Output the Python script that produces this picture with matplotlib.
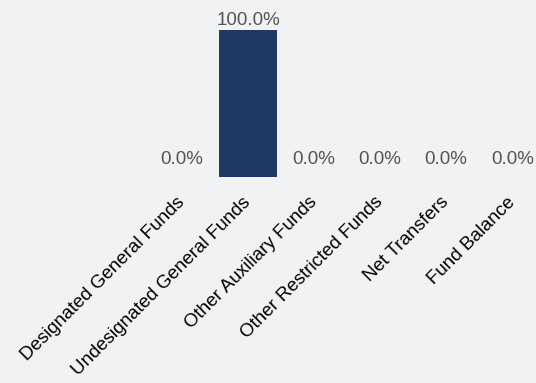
import matplotlib
matplotlib.use('Agg')
import matplotlib.pyplot as plt
from matplotlib.transforms import ScaledTranslation

categories = ['Designated General Funds', 'Undesignated General Funds',
              'Other Auxiliary Funds', 'Other Restricted Funds',
              'Net Transfers', 'Fund Balance']
shares = [0.0, 100.0, 0.0, 0.0, 0.0, 0.0]

bg = '#f1f2f4'
bar_colour = '#203864'

plt.rcParams['font.family'] = ['Liberation Sans', 'DejaVu Sans']

fig = plt.figure(figsize=(5.36, 3.83), dpi=100, facecolor=bg)
# axes placed in pixels: x from 149 to 536, baseline at y=177
W, H = 536, 383
ax = fig.add_axes([149 / W, (H - 177) / H, (536 - 149) / W, 162 / H])
ax.set_facecolor(bg)

x = range(len(categories))
ax.bar(x, shares, width=0.88, color=bar_colour)

for i, v in enumerate(shares):
    off = 3.6 if v > 0 else 9.4
    ax.annotate(f'{v:.1f}%', (i, v), xytext=(0, off), textcoords='offset points',
                ha='center', va='baseline', fontsize=13.5, color='#555555',
                annotation_clip=False)

ax.set_xlim(-0.5, 5.36)
ax.set_ylim(0, 110)
ax.set_xticks(list(x))
ax.set_xticklabels(categories, rotation=45, ha='right', rotation_mode='anchor',
                   fontsize=13.5, color='black')
ax.tick_params(axis='x', length=0, pad=12)
shift = ScaledTranslation(-6 / 100, 0, fig.dpi_scale_trans)
for lbl in ax.get_xticklabels():
    lbl.set_transform(lbl.get_transform() + shift)
ax.set_yticks([])
for s in ax.spines.values():
    s.set_visible(False)

fig.savefig('out.png', dpi=100, facecolor=bg)
